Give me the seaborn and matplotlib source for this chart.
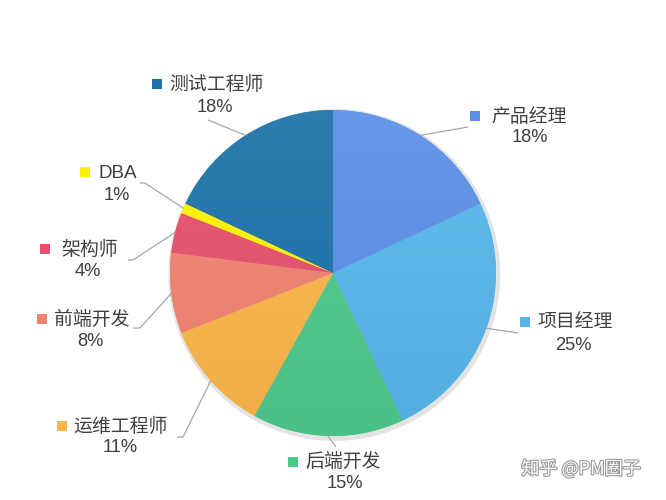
import numpy as np
import matplotlib
matplotlib.use("Agg")
import matplotlib.pyplot as plt
import seaborn as sns
from matplotlib.colors import to_rgb
import matplotlib.patheffects as pe

# ---- data ----
categories = ["产品经理", "项目经理", "后端开发", "运维工程师", "前端开发", "架构师", "DBA", "测试工程师"]
shares = [18, 25, 15, 11, 8, 4, 1, 18]
pct_labels = ["18%", "25%", "15%", "11%", "8%", "4%", "1%", "18%"]
colors = ["#5a8ee6", "#55b5e9", "#4bc88c", "#fbb54a", "#f08270", "#e5506a", "#fff200", "#1b71a9"]

sns.set_theme(style="white")
plt.rcParams['font.family'] = ['Liberation Sans', 'Noto Sans CJK SC', 'DejaVu Sans']

fig = plt.figure(figsize=(6.66, 5), dpi=100)
ax = fig.add_axes([0, 0, 1, 1])
CX, CY, R = 333, 273, 163


def px(x, y):
    return ((x - CX) / R, (CY - y) / R)


# soft shadow
shadow = plt.Circle((0.008, -0.012), 1.018, color="#b0b0b0", alpha=0.35, lw=0, zorder=0)
ax.add_patch(shadow)

palette = sns.color_palette(colors)
wedges, _ = ax.pie(shares, colors=palette, startangle=90, counterclock=False,
                   radius=1, center=(0, 0), wedgeprops=dict(linewidth=0))

# subtle vertical gradient on each wedge
g = np.linspace(0, 1, 256)[:, None, None]
for w, c in zip(wedges, colors):
    rgb = np.array(to_rgb(c))
    top = 1 - (1 - rgb) * 0.92
    bot = rgb * 0.96
    img = top * (1 - g) + bot * g
    im = ax.imshow(img, extent=(-1, 1, -1, 1), origin='upper', aspect='auto',
                   zorder=w.get_zorder() + 0.1, interpolation='bilinear')
    im.set_clip_path(w)

# label layout (pixels)
name_pos = [(529, 117), (575, 322), (343, 462), (120, 427), (92, 320), (90, 250), (118, 173), (216, 85)]
pct_pos = [(530, 138), (573, 345), (345, 483), (120, 448), (90, 342), (88, 272), (117, 195), (215, 107)]
sq_pos = [(475, 116), (525, 322), (293, 462), (62, 426), (42, 319), (45, 249), (85, 172), (157, 84)]
line_ends = [
    [(468, 127)],
    [(518, 333)],
    [(336, 447)],
    [(183, 437), (177, 437)],
    [(140, 328), (133, 328)],
    [(133, 260), (128, 260)],
    [(145, 183), (140, 183)],
    [(208, 120)],
]

txt_color = "#404040"
for i, w in enumerate(wedges):
    ang = np.deg2rad((w.theta1 + w.theta2) / 2)
    pts = [(np.cos(ang), np.sin(ang))] + [px(*p) for p in line_ends[i]]
    xs, ys = zip(*pts)
    ax.plot(xs, ys, color="#a6a6a6", lw=0.9, zorder=5, solid_capstyle='butt')
    nx, ny = px(*name_pos[i])
    ax.text(nx, ny, categories[i], ha="center", va="center", fontsize=13.6, color=txt_color, zorder=6)
    qx, qy = px(*pct_pos[i])
    ax.text(qx, qy, pct_labels[i], ha="center", va="center", fontsize=13.2, color=txt_color, zorder=6)
    sx, sy = px(*sq_pos[i])
    ax.scatter([sx], [sy], marker="s", s=55, color=colors[i], zorder=6, linewidths=0)

# watermark
wx, wy = px(581, 469)
ax.text(wx, wy, "知乎 @PM圈子", ha="center", va="center", fontsize=13, color="white",
        family=['Noto Sans CJK SC', 'DejaVu Sans'], zorder=7,
        path_effects=[pe.withStroke(linewidth=1.6, foreground="#9a9a9a")])

ax.set_xlim(-CX / R, (666 - CX) / R)
ax.set_ylim(-(500 - CY) / R, CY / R)
ax.set_aspect('equal')
ax.axis('off')

fig.savefig("out.png", dpi=100, facecolor="white")
